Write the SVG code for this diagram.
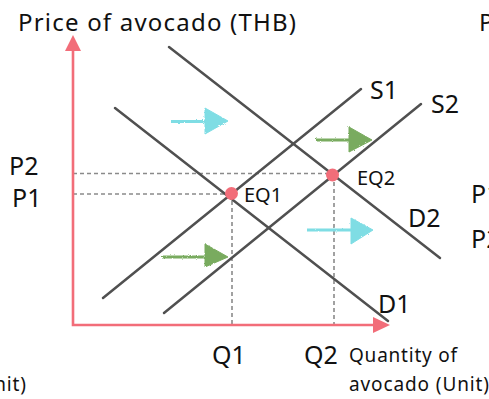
<svg xmlns="http://www.w3.org/2000/svg" width="489" height="399" viewBox="0 0 489 399">
<style>
text{font-family:"Noto Sans","Open Sans",sans-serif;fill:#111}
.t{font-size:24px}
.l{font-size:25px}
.m{font-size:20px}
.s{font-size:19px}
.curve{stroke:#505050;stroke-width:2.5;fill:none;stroke-linecap:round}
.dash{stroke:#8a8a8a;stroke-width:1.6;stroke-dasharray:4 3;fill:none}
.axis{stroke:#f26d79;stroke-width:2.6;fill:none}
.cy{fill:#7fdde4;stroke:#7fdde4}
.gr{fill:#79ab5f;stroke:#79ab5f}
</style>
<defs>
<filter id="chalk" x="-10%" y="-20%" width="120%" height="140%">
<feTurbulence type="fractalNoise" baseFrequency="0.9" numOctaves="2" seed="3"/>
<feDisplacementMap in="SourceGraphic" scale="2.5"/>
</filter>
</defs>
<rect width="489" height="399" fill="#fff"/>
<g id="connectors">
<line class="dash" x1="73" y1="173.5" x2="332" y2="173.5"/>
<line class="dash" x1="73" y1="194" x2="231" y2="194"/>
<line class="dash" x1="232" y1="194" x2="232" y2="324"/>
<line class="dash" x1="334" y1="175" x2="334" y2="324"/>
<line class="curve" x1="169" y1="47" x2="440" y2="258"/>
<line class="curve" x1="115" y1="108" x2="388" y2="321"/>
<line class="curve" x1="361" y1="89" x2="103" y2="298"/>
<line class="curve" x1="421" y1="104" x2="164" y2="313"/>
</g>
<g id="axes">
<polyline class="axis" points="73,48 73,325 375,325"/>
<polygon points="73,35 65,51 81,51" fill="#f26d79"/>
<polygon points="390,325 373,317 373,333" fill="#f26d79"/>
</g>
<g id="eq1"><circle cx="231.5" cy="193.5" r="6.5" fill="#f26d79"/><text class="m" x="244" y="202">EQ1</text></g>
<g id="eq2"><circle cx="332.5" cy="175" r="6.5" fill="#f26d79"/><text class="m" x="357" y="185">EQ2</text></g>
<g id="shift-arrows" filter="url(#chalk)">
<g id="arrow-d-top"><line class="cy" x1="171" y1="121.5" x2="207" y2="121.5" stroke-width="3"/><polygon class="cy" points="205,108 228,121 205,134"/></g>
<g id="arrow-s-top"><line class="gr" x1="316" y1="140" x2="351" y2="140" stroke-width="3"/><polygon class="gr" points="349,127 372,140 349,152"/></g>
<g id="arrow-d-bottom"><line class="cy" x1="307" y1="230" x2="353" y2="230" stroke-width="3"/><polygon class="cy" points="351,218 373,230 351,244"/></g>
<g id="arrow-s-bottom"><line class="gr" x1="162" y1="257" x2="207" y2="257" stroke-width="3"/><polygon class="gr" points="205,244 228,257 205,267"/></g>
</g>
<g id="labels">
<text class="t" x="18" y="31" textLength="278">Price of avocado (THB)</text>
<text class="l" x="9" y="175">P2</text>
<text class="l" x="12" y="207">P1</text>
<text class="l" x="370" y="99">S1</text>
<text class="l" x="431" y="113">S2</text>
<text class="l" x="408" y="227">D2</text>
<text class="l" x="378" y="313">D1</text>
<text class="l" x="212" y="364">Q1</text>
<text class="l" x="304" y="364">Q2</text>
<text class="s" x="349" y="362" textLength="108">Quantity of</text>
<text class="s" x="349" y="391" textLength="140">avocado (Unit)</text>
</g>
<g id="neighbour-fragments">
<text class="t" x="479" y="31" textLength="278">Price of avocado (THB)</text>
<text class="l" x="471" y="203">P1</text>
<text class="l" x="471" y="248">P2</text>
<text class="s" x="26" y="391" text-anchor="end" textLength="140">avocado (Unit)</text>
</g>
</svg>
